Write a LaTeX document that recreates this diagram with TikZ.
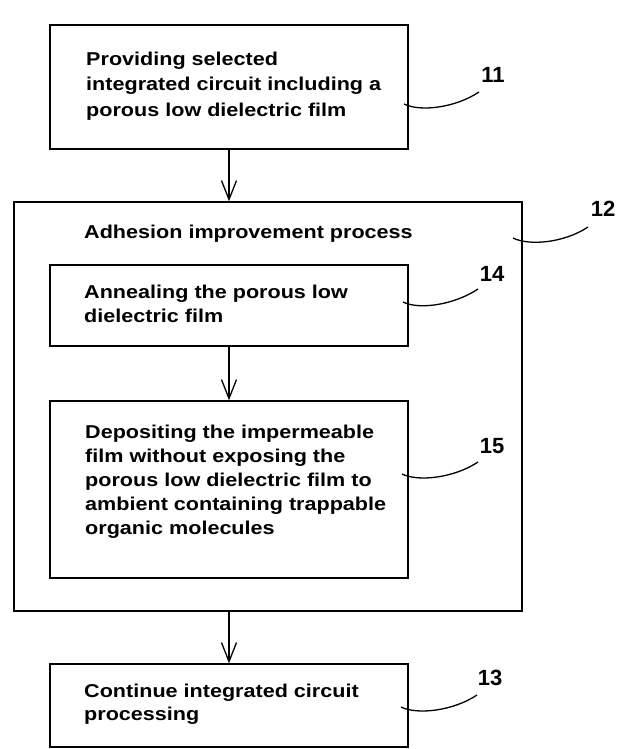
\documentclass[tikz,border=0pt]{standalone}
\usepackage{fontspec}
\setmainfont{Liberation Sans}
\usetikzlibrary{arrows.meta,calc}
\newcommand{\fstrut}{\rule{0pt}{15pt}}
\begin{document}
\begin{tikzpicture}[x=1pt,y=-1pt,
  box/.style={draw,line width=1.3pt,inner sep=0pt},
  txt/.style={anchor=north west,align=left,inner sep=0pt,xscale=1.16,transform shape,
    font=\fontsize{18.6}{24}\selectfont\bfseries},
  lbl/.style={font=\fontsize{22}{24}\selectfont\bfseries,inner sep=0pt},
  arr/.style={line width=1.3pt,-{Straight Barb[length=19pt,width=15pt,line width=1.3pt]}},
  lead/.style={line width=1.3pt}]
\useasboundingbox (0,0) rectangle (616,749);
% boxes
\node[box,minimum width=358pt,minimum height=124pt] (b11) at (229,87) {};
\node[box,minimum width=508pt,minimum height=409pt] (b12) at (268,406.5) {};
\node[box,minimum width=358pt,minimum height=81pt] (b14) at (229,305.5) {};
\node[box,minimum width=358pt,minimum height=177pt] (b15) at (229,489.5) {};
\node[box,minimum width=358pt,minimum height=83pt] (b13) at (229,705.5) {};
% texts
\node[txt,font=\fontsize{18.6}{25.5}\selectfont\bfseries] (t11) at (86,50) {\fstrut Providing selected\\integrated circuit including a\\porous low dielectric film};
\node[txt] (t12) at (84,223) {\fstrut Adhesion improvement process};
\node[txt] (t14) at (84,283) {\fstrut Annealing the porous low\\dielectric film};
\node[txt] (t15) at (85,423) {\fstrut Depositing the impermeable\\film without exposing the\\porous low dielectric film to\\ambient containing trappable\\organic molecules};
\node[txt,font=\fontsize{18.6}{23.5}\selectfont\bfseries] (t13) at (84,682) {\fstrut Continue integrated circuit\\processing};
% arrows
\draw[arr] (b11.south) -- (b11.south |- b12.north);
\draw[arr] (b14.south) -- (b15.north);
\draw[arr] (b12.south -| b13.north) -- (b13.north);
% labels
\node[lbl] (l11) at (493,75) {11};
\node[lbl] (l12) at (603,209) {12};
\node[lbl] (l14) at (492,274) {14};
\node[lbl] (l15) at (492,446) {15};
\node[lbl] (l13) at (490,678) {13};
\coordinate (s11) at (404,104);
\coordinate (e11) at (479,92);
\coordinate (s12) at (513,238);
\coordinate (e12) at (588,227);
\coordinate (s14) at (403,302);
\coordinate (e14) at (478,289);
\coordinate (s15) at (402,474);
\coordinate (e15) at (478,462);
\coordinate (s13) at (401,707);
\coordinate (e13) at (477,695);
\foreach \s/\e in {s11/e11,s12/e12,s14/e14,s15/e15,s13/e13}
  \draw[lead] (\s) .. controls ($(\s)+(16,8)$) and ($(\e)+(-24,16)$) .. (\e);
\end{tikzpicture}
\end{document}
